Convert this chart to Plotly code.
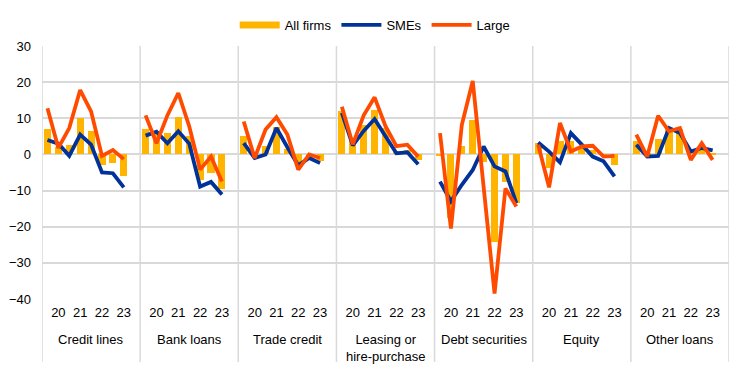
import plotly.graph_objects as go

groups = ["Credit lines", "Bank loans", "Trade credit", "Leasing or<br>hire-purchase",
          "Debt securities", "Equity", "Other loans"]
year_labels = ["20", "21", "22", "23"]

all_firms = [
    [6.9, 2.0, 2.5, 10.1, 6.4, -2.9, -2.4, -5.9],
    [7.0, 5.8, 5.8, 10.3, 5.0, -7.2, -5.0, -9.7],
    [5.0, 0.5, 2.2, 7.5, 1.5, -3.0, -1.0, -1.8],
    [11.9, 4.5, 8.2, 12.2, 7.3, 1.0, 1.2, -1.5],
    [-0.5, -17.7, 2.4, 9.6, -2.0, -24.2, -7.5, -13.5],
    [3.1, -3.8, 3.6, 3.6, 1.8, 1.3, -0.5, -2.9],
    [3.6, 0.3, 4.3, 7.3, 6.9, 1.3, 1.3, 0.5],
]
smes = [
    [4.0, 3.0, -0.4, 5.5, 2.7, -5.0, -5.2, -9.1],
    [5.2, 6.3, 3.1, 6.4, 3.0, -8.9, -7.6, -11.1],
    [3.1, -1.0, 0.0, 7.3, 2.0, -3.0, -1.0, -2.4],
    [11.5, 2.5, 6.5, 9.8, 5.0, 0.3, 0.6, -2.7],
    [-7.5, -13.0, -8.4, -4.3, 2.2, -3.3, -4.7, -13.5],
    [3.3, 0.8, -2.2, 5.9, 2.7, -0.6, -1.9, -6.1],
    [2.7, -0.6, -0.4, 7.3, 5.9, 0.8, 1.8, 1.1],
]
large = [
    [12.8, 1.8, 7.3, 17.8, 11.9, -0.4, 1.2, -1.3],
    [10.8, 3.1, 10.8, 17.0, 7.8, -4.2, -0.6, -7.5],
    [9.1, -1.0, 6.9, 10.3, 5.5, -4.2, 0.0, -1.0],
    [13.2, 2.8, 10.8, 15.8, 7.8, 2.3, 2.7, -0.6],
    [5.9, -20.5, 8.2, 20.3, -9.0, -38.5, -9.4, -14.4],
    [2.7, -9.1, 8.7, 0.8, 2.2, 2.4, -0.6, -0.4],
    [5.5, -0.6, 10.7, 6.4, 7.3, -1.5, 3.1, -1.5],
]

SLOTS = 9  # 8 periods + 1 gap per group
FONT = "Liberation Sans, Arial, sans-serif"
GRID = "#d9d9d9"
ORANGE_BAR = "#FFB400"

bar_x, bar_y = [], []
line_x, sme_y, large_y = [], [], []
for g in range(len(groups)):
    for k in range(8):
        x = g * SLOTS + k
        bar_x.append(x); bar_y.append(all_firms[g][k])
        line_x.append(x); sme_y.append(smes[g][k]); large_y.append(large[g][k])
    line_x.append(None); sme_y.append(None); large_y.append(None)

fig = go.Figure()
fig.add_trace(go.Bar(x=bar_x, y=bar_y, name="All firms", marker_color=ORANGE_BAR,
                     marker_line_width=0, width=0.65, showlegend=False))
# legend-only entry drawn as a wide band, like the reference's legend key
fig.add_trace(go.Scatter(x=[None], y=[None], name="All firms", mode="lines",
                         line=dict(color=ORANGE_BAR, width=7)))
fig.add_trace(go.Scatter(x=line_x, y=sme_y, name="SMEs", mode="lines",
                         line=dict(color="#003299", width=3.8), connectgaps=False))
fig.add_trace(go.Scatter(x=line_x, y=large_y, name="Large", mode="lines",
                         line=dict(color="#FF4B00", width=3.8), connectgaps=False))

tickvals, ticktext = [], []
for g in range(len(groups)):
    for i, yl in enumerate(year_labels):
        tickvals.append(g * SLOTS + 1 + 2 * i)
        ticktext.append(yl)

plot_top, plot_bottom = 46, 299
ph = plot_bottom - plot_top

shapes = []
for g in range(len(groups) + 1):
    xv = g * SLOTS - 0.5
    shapes.append(dict(type="line", xref="x", yref="paper", x0=xv, x1=xv,
                       y0=-(362 - plot_bottom) / ph, y1=1,
                       line=dict(color=GRID, width=1.5), layer="below"))

annotations = []
for g, name in enumerate(groups):
    annotations.append(dict(x=g * SLOTS + 4, y=-(330 - plot_bottom) / ph, xref="x", yref="paper",
                            text=name, showarrow=False, yanchor="top", xanchor="center",
                            font=dict(family=FONT, size=13, color="black")))

fig.update_layout(
    width=741, height=383,
    margin=dict(l=42, r=12, t=plot_top, b=383 - plot_bottom, autoexpand=False),
    plot_bgcolor="white", paper_bgcolor="white",
    font=dict(family=FONT, size=13, color="black"),
    bargap=0,
    showlegend=True,
    legend=dict(orientation="h", x=0.485, xanchor="center", y=1 + (46 - 25) / ph, yanchor="middle",
                font=dict(family=FONT, size=13), itemwidth=40, traceorder="normal"),
    xaxis=dict(range=[-0.5, len(groups) * SLOTS - 0.5], tickvals=tickvals, ticktext=ticktext,
               showgrid=False, zeroline=False, showline=False, ticks="",
               tickfont=dict(family=FONT, size=13), ticklabelstandoff=4),
    yaxis=dict(range=[-40, 30], dtick=10, showgrid=True, gridcolor=GRID, gridwidth=1.5,
               zeroline=False, showline=False, ticks="",
               tickfont=dict(family=FONT, size=13), ticklabelstandoff=10),
    shapes=shapes, annotations=annotations,
)

fig.write_html("out.html", config={"displayModeBar": False},
               post_script="document.body.style.margin='0';document.body.style.overflow='hidden';")
